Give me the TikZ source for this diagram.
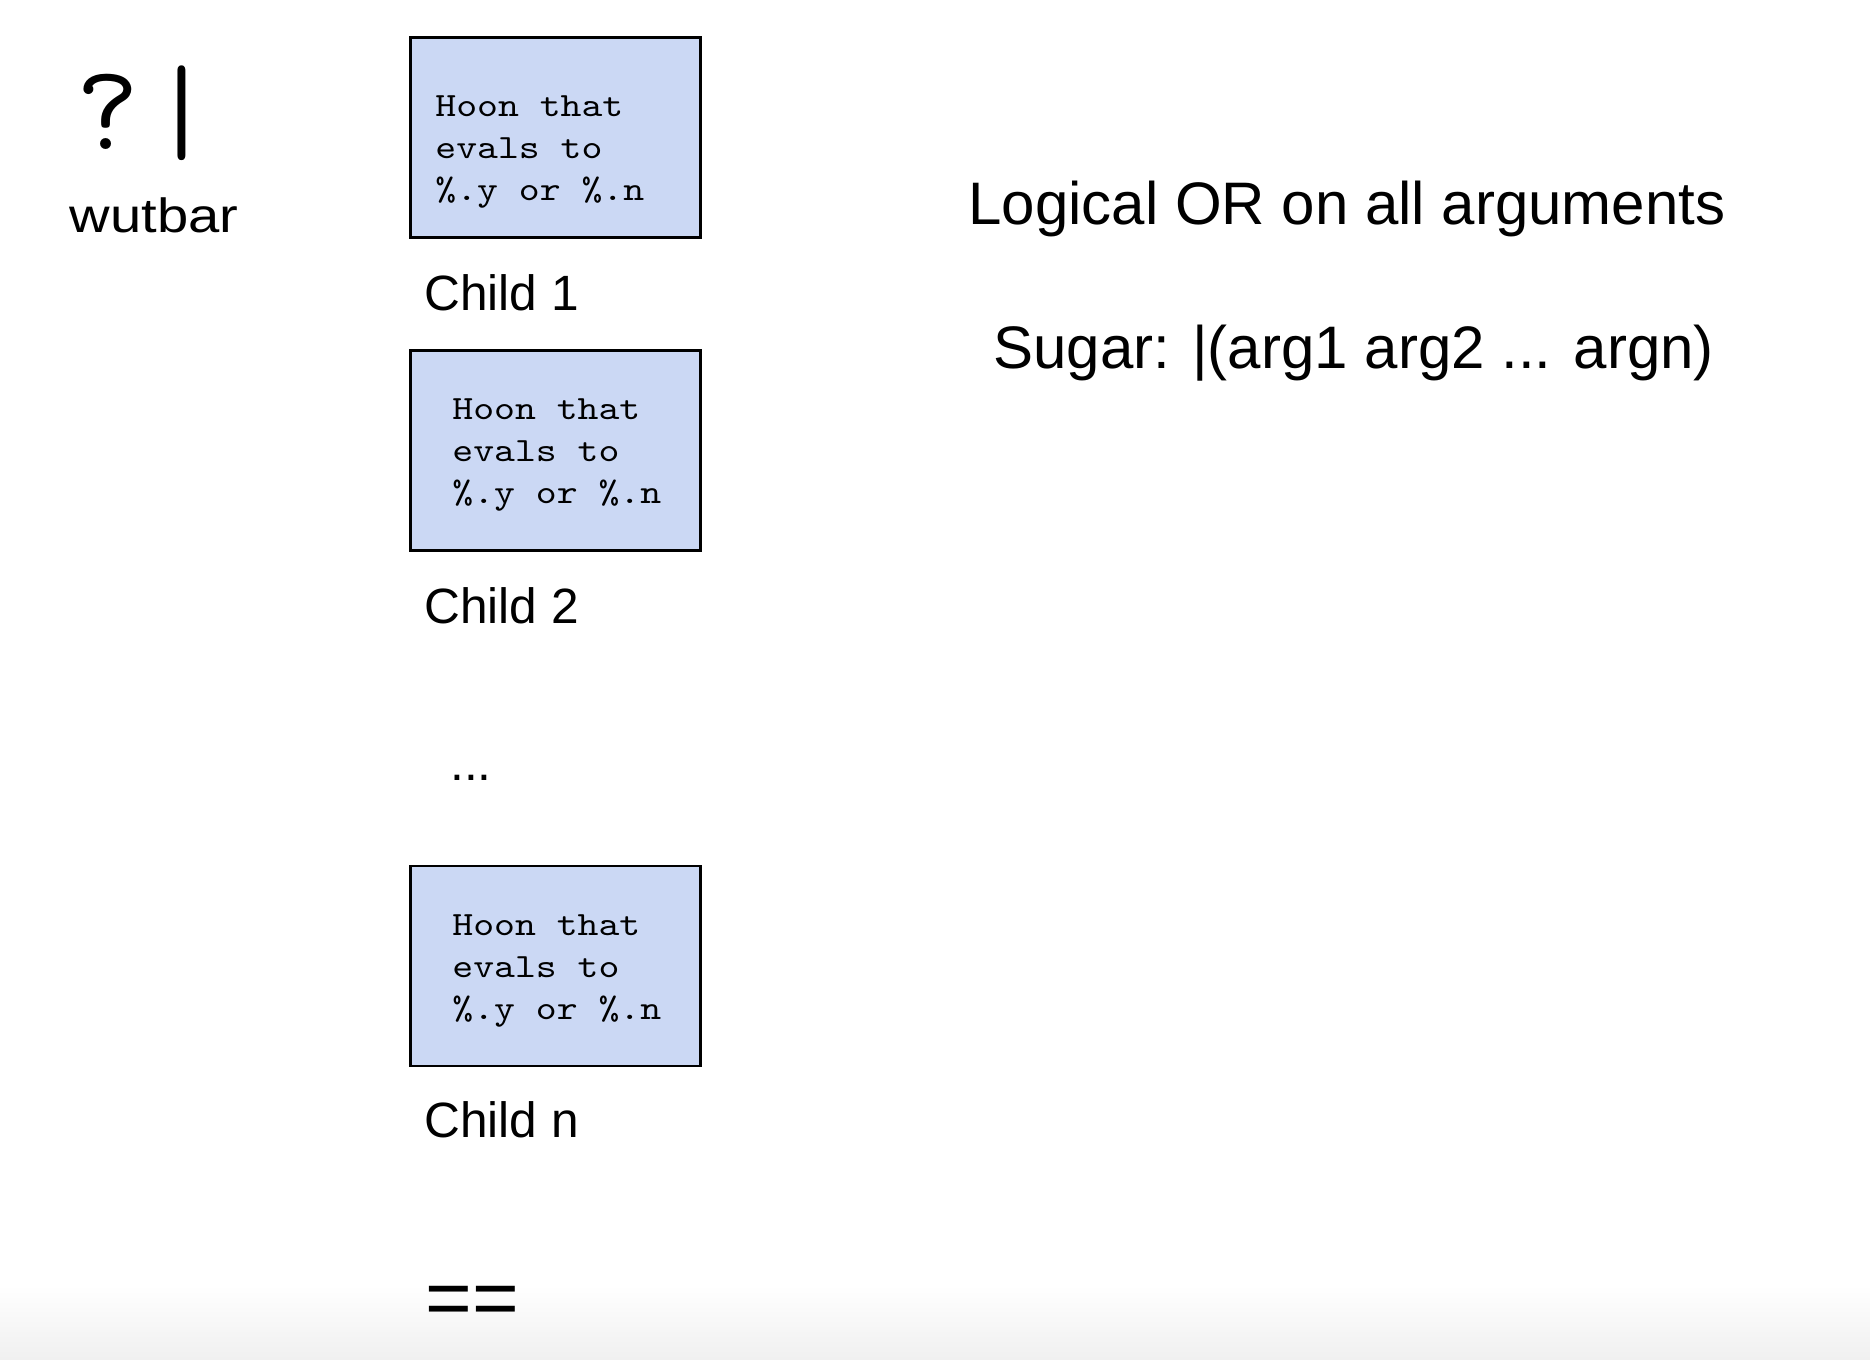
\documentclass[tikz,border=0pt]{standalone}
\usepackage{fontspec}
\setmainfont{Liberation Sans}
\newfontfamily\hoonfont{lmmono10-regular.otf}[FakeStretch=1.17]
\definecolor{hoonblue}{HTML}{CBD8F4}

\begin{document}
\begin{tikzpicture}[x=0.5pt,y=-0.5pt,
	hoon/.style = {draw, line width=1.3pt, fill=hoonblue, minimum width=145pt, minimum height=100pt, inner sep=0pt},
	code/.style = {anchor=north west, align=left, inner sep=0pt, font=\hoonfont\fontsize{17}{21}\selectfont},
	kid/.style = {anchor=base west, inner sep=0pt, font=\fontsize{24.8}{28}\selectfont}]
	\useasboundingbox (0,0) rectangle (1870,1360);
	\shade[top color=white, bottom color=black!6] (0,1285) rectangle (1870,1360);
	% rune
	\node[anchor=base, inner sep=0pt, font=\ttfamily\fontsize{61}{61}\selectfont] (wut) at (108,149) {?};
	\node[anchor=base, inner sep=0pt, font=\ttfamily\fontsize{61}{61}\selectfont] (bar) at (182,150) {|};
	\node[anchor=base west, inner sep=0pt, font=\fontsize{24}{28}\selectfont\addfontfeatures{FakeStretch=1.17}] (name) at (69.5,232) {wutbar};
	% children
	\node[hoon] (box1) at (555.3,137.4) {};
	\node[hoon] (box2) at (555.3,450.5) {};
	\node[hoon] (box3) at (555.3,966) {};
	\node[code] (code1) at (435,95) {Hoon that\\evals to\\\%.y or \%.n};
	\node[code] (code2) at (452,398.5) {Hoon that\\evals to\\\%.y or \%.n};
	\node[code] (code3) at (452,914.5) {Hoon that\\evals to\\\%.y or \%.n};
	\node[kid] (kid1) at (424,310) {Child 1};
	\node[kid] (kid2) at (424,623.5) {Child 2};
	\node[kid] (dots) at (450,780) {...};
	\node[kid] (kidn) at (424,1137.5) {Child n};
	\node[anchor=base west, inner sep=0pt, font=\fontsize{40}{44}\selectfont] (eq) at (425.5,1325) {==};
	% description
	\node[anchor=base west, inner sep=0pt, font=\fontsize{30}{34}\selectfont] (desc) at (968,224) {Logical OR on all arguments};
	\node[anchor=base west, inner sep=0pt, font=\fontsize{30}{34}\selectfont] (sugar) at (993,368) {Sugar: |(arg1 arg2 ... argn)};
\end{tikzpicture}
\end{document}
